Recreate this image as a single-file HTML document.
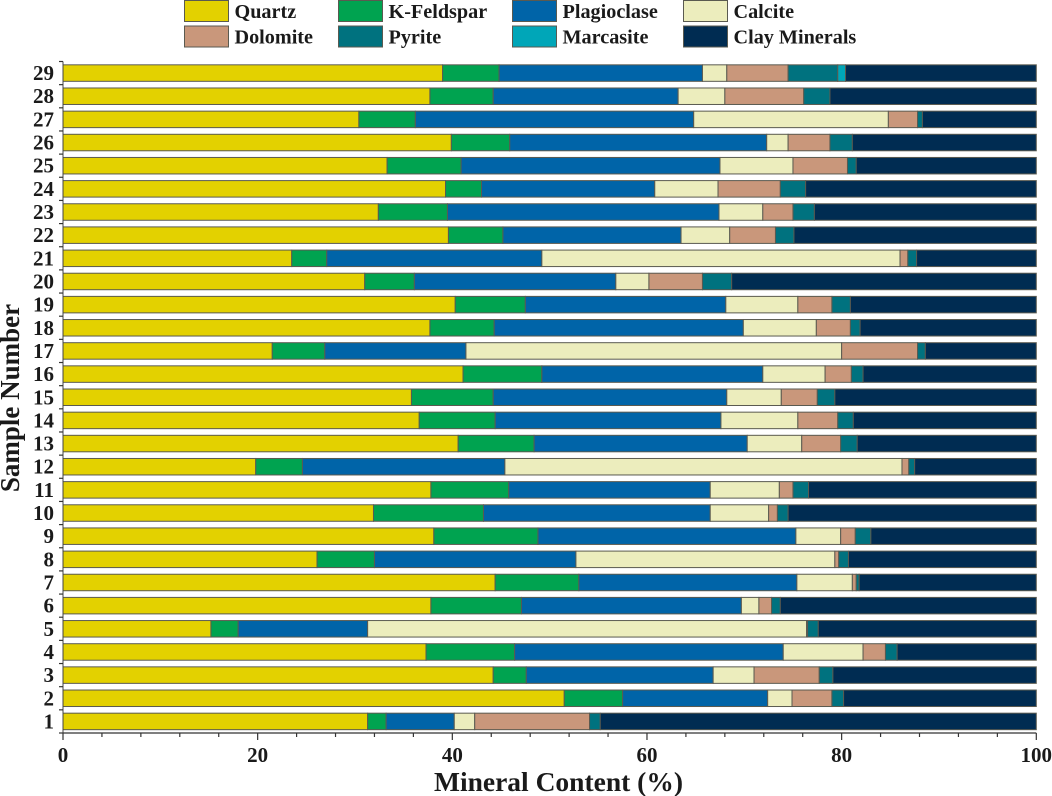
<!DOCTYPE html>
<html lang="en">
<head>
<meta charset="utf-8">
<title>Mineral Content by Sample</title>
<style>
html,body{margin:0;padding:0;background:#fff;width:1052px;height:796px;overflow:hidden}
svg{display:block}
text{font-family:"Liberation Serif",serif;font-weight:bold;fill:#1a1a1a}
</style>
</head>
<body>
<svg id="chart" width="1052" height="796" viewBox="0 0 1052 796" xmlns="http://www.w3.org/2000/svg"></svg>
<script>
const samples = [1,2,3,4,5,6,7,8,9,10,11,12,13,14,15,16,17,18,19,20,21,22,23,24,25,26,27,28,29];
const quartz = [31.3,51.5,44.2,37.3,15.2,37.8,44.4,26.1,38.1,31.9,37.8,19.8,40.6,36.6,35.8,41.1,21.5,37.7,40.3,31.0,23.5,39.6,32.4,39.3,33.3,39.9,30.4,37.7,39.0];
const kFeldspar = [1.9,6.0,3.4,9.1,2.8,9.3,8.6,5.9,10.7,11.3,8.0,4.8,7.8,7.8,8.4,8.1,5.4,6.6,7.2,5.1,3.6,5.6,7.1,3.7,7.6,6.0,5.8,6.5,5.8];
const plagioclase = [7.0,14.9,19.2,27.6,13.3,22.6,22.4,20.7,26.5,23.3,20.7,20.8,21.9,23.2,24.0,22.7,14.5,25.6,20.6,20.7,22.1,18.3,27.9,17.8,26.6,26.4,28.6,19.0,20.9];
const calcite = [2.1,2.5,4.2,8.2,45.1,1.8,5.7,26.6,4.6,6.0,7.1,40.8,5.6,7.9,5.6,6.4,38.6,7.5,7.4,3.4,36.8,5.0,4.5,6.5,7.5,2.2,20.0,4.8,2.5];
const dolomite = [11.8,4.1,6.7,2.3,0.1,1.3,0.4,0.4,1.5,0.9,1.4,0.7,4.0,4.1,3.7,2.7,7.8,3.5,3.5,5.5,0.8,4.7,3.1,6.4,5.6,4.3,3.0,8.1,6.3];
const pyrite = [1.1,1.2,1.4,1.2,1.1,0.9,0.3,1.0,1.6,1.1,1.6,0.6,1.7,1.6,1.8,1.2,0.8,1.0,1.9,3.0,0.9,1.9,2.2,2.6,0.9,2.3,0.5,2.7,5.1];
const marcasite = [0,0,0,0,0,0,0,0,0,0,0,0,0,0,0,0,0,0,0,0,0,0,0,0,0,0,0,0,0.8];
const clayMinerals = [44.8,19.8,20.9,14.3,22.4,26.3,18.2,19.3,17.0,25.5,23.4,12.5,18.4,18.8,20.7,17.8,11.4,18.1,19.1,31.3,12.3,24.9,22.8,23.7,18.5,18.9,11.7,21.2,19.6];
const xTickValues = [0,20,40,60,80,100];
const xMinorTickValues = [4,8,12,16,24,28,32,36,44,48,52,56,64,68,72,76,84,88,92,96];

const seriesNames = ['Quartz','K-Feldspar','Plagioclase','Calcite','Dolomite','Pyrite','Marcasite','Clay Minerals'];
const seriesColors = ['#e3d100','#00a350','#0064a8','#ecedbd','#c9977b','#00727f','#00a6b8','#002c52'];
const seriesValues = [quartz,kFeldspar,plagioclase,calcite,dolomite,pyrite,marcasite,clayMinerals];

const NS = 'http://www.w3.org/2000/svg';
const svg = document.getElementById('chart');
const left = 63, right = 1036.3, top_ = 61.5, bottom = 733;
const xScale = v => left + (v / 100) * (right - left);
const band = (bottom - top_) / samples.length;
const yScale = i => bottom - (i + 0.5) * band;
const barH = 16.5;

function mk(tag, attrs, parent, text) {
  const el = document.createElementNS(NS, tag);
  for (const k in attrs) el.setAttribute(k, attrs[k]);
  if (text !== undefined) el.textContent = text;
  (parent || svg).appendChild(el);
  return el;
}
const slug = s => s.toLowerCase().replace(/[^a-z0-9]+/g, '-');

/* bars */
const barsGroup = mk('g', {});


samples.forEach((s, i) => {
  let acc = 0;
  const cy = yScale(i);
  seriesValues.forEach((vals, k) => {
    const v = vals[i];
    if (v <= 0) return;
    const r = mk('rect', {
      x: xScale(acc).toFixed(2),
      y: (cy - barH / 2).toFixed(2),
      width: (xScale(acc + v) - xScale(acc)).toFixed(2),
      height: barH,
      fill: seriesColors[k],
      stroke: '#5a5a50',
      'stroke-width': 1
    }, barsGroup);
    
    
    acc += v;
  });
});

/* y axis */
const yAxis = mk('g', {});


mk('line', {x1:left, x2:left, y1:top_, y2:bottom, stroke:'#444', 'stroke-width':1}, yAxis);
for (let i = 0; i <= samples.length; i++) {
  const y = bottom - i * band;
  mk('line', {x1:left - 4, x2:left, y1:y, y2:y, stroke:'#333', 'stroke-width':1.2}, yAxis);
}
samples.forEach((s, i) => {
  const t = mk('text', {x:54, y:(yScale(i) + 7).toFixed(2), 'text-anchor':'end', 'font-size':21}, yAxis, String(s));
  
  
});

/* x axis */
const xAxis = mk('g', {});


mk('line', {x1:left, x2:right, y1:bottom, y2:bottom, stroke:'#333', 'stroke-width':1.3}, xAxis);
xMinorTickValues.forEach(v => {
  mk('line', {x1:xScale(v), x2:xScale(v), y1:bottom, y2:bottom + 4, stroke:'#333', 'stroke-width':1.2}, xAxis);
});
xTickValues.forEach(v => {
  mk('line', {x1:xScale(v), x2:xScale(v), y1:bottom, y2:bottom + 7, stroke:'#333', 'stroke-width':1.2}, xAxis);
  const t = mk('text', {x:xScale(v), y:762, 'text-anchor':'middle', 'font-size':21}, xAxis, String(v));
  
  
});

/* titles */
const xTitle = mk('text', {x:558.5, y:791, 'text-anchor':'middle', 'font-size':27.5}, svg, 'Mineral Content (%)');


const yTitle = mk('text', {x:0, y:0, 'text-anchor':'middle', 'font-size':27, transform:'translate(19 398) rotate(-90)'}, svg, 'Sample Number');



/* legend */
const legend = mk('g', {});


const legendOrder = [0,1,2,3,4,5,6,7];
const legendColX = [184.5, 338.5, 512.5, 683.5];
const legendRowY = [0.5, 26];
legendOrder.forEach((k, n) => {
  const col = n % 4, row = Math.floor(n / 4);
  const g = mk('g', {}, legend);
  
  
  mk('rect', {x:legendColX[col], y:legendRowY[row], width:44, height:21, fill:seriesColors[k], stroke:'#5a5a50', 'stroke-width':1}, g);
  mk('text', {x:legendColX[col] + 50, y:legendRowY[row] + 17.5, 'font-size':20.2}, g, seriesNames[k]);
});
</script>
</body>
</html>
